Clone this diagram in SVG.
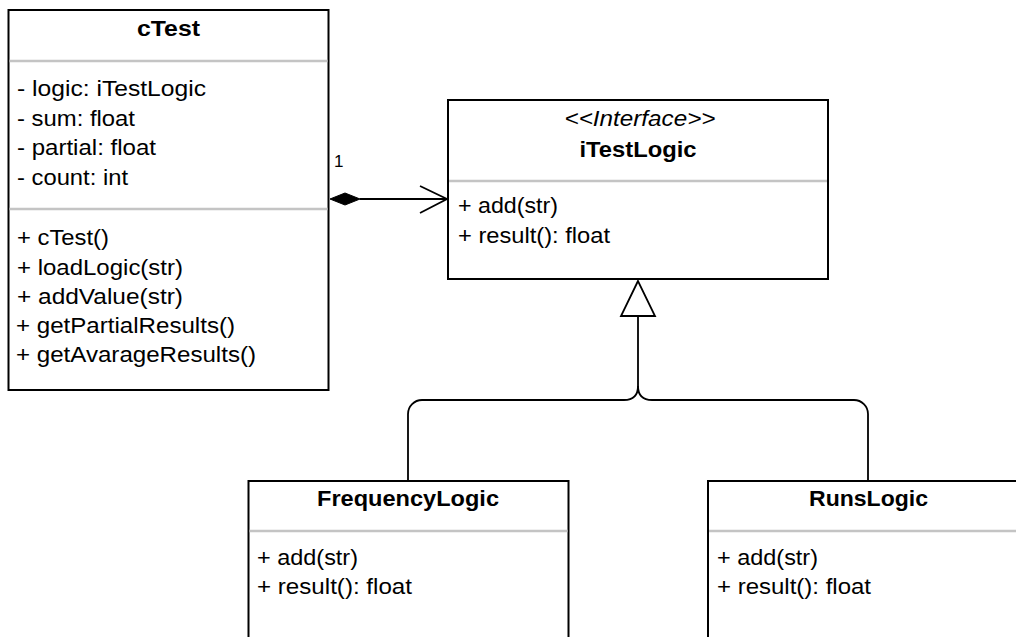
<svg xmlns="http://www.w3.org/2000/svg" width="1016" height="637" viewBox="0 0 1016 637">
<style>
  .box { fill: #ffffff; stroke: #000000; stroke-width: 2; }
  .div { stroke: #c4c4c4; stroke-width: 2.5; }
  .t { font-family: "Liberation Sans", Arial, sans-serif; font-size: 22.5px; fill: #000000; }
  .title { font-weight: bold; text-anchor: middle; }
  .stereo { font-style: italic; text-anchor: middle; }
  .edge { fill: none; stroke: #000000; stroke-width: 1.8; }
  .lbl { font-family: "Liberation Sans", Arial, sans-serif; font-size: 17px; fill: #000000; }
</style>
<rect x="0" y="0" width="1016" height="637" fill="#ffffff"/>

<g id="cTest">
  <rect class="box" x="8.5" y="10" width="320" height="380"/>
  <line class="div" x1="9.5" y1="61" x2="327.5" y2="61"/>
  <line class="div" x1="9.5" y1="209" x2="327.5" y2="209"/>
  <text class="t title" x="168.5" y="36" textLength="63" lengthAdjust="spacingAndGlyphs">cTest</text>
  <text class="t" x="17" y="96" textLength="189" lengthAdjust="spacingAndGlyphs">- logic: iTestLogic</text>
  <text class="t" x="17" y="126" textLength="118" lengthAdjust="spacingAndGlyphs">- sum: float</text>
  <text class="t" x="17" y="155" textLength="139" lengthAdjust="spacingAndGlyphs">- partial: float</text>
  <text class="t" x="17" y="185" textLength="111" lengthAdjust="spacingAndGlyphs">- count: int</text>
  <text class="t" x="17" y="245" textLength="92" lengthAdjust="spacingAndGlyphs">+ cTest()</text>
  <text class="t" x="17" y="275" textLength="166" lengthAdjust="spacingAndGlyphs">+ loadLogic(str)</text>
  <text class="t" x="17" y="304" textLength="166" lengthAdjust="spacingAndGlyphs">+ addValue(str)</text>
  <text class="t" x="16" y="333" textLength="219" lengthAdjust="spacingAndGlyphs">+ getPartialResults()</text>
  <text class="t" x="16" y="362" textLength="240" lengthAdjust="spacingAndGlyphs">+ getAvarageResults()</text>
</g>

<g id="iTestLogic">
  <rect class="box" x="448" y="100" width="380" height="179"/>
  <line class="div" x1="449" y1="181" x2="827" y2="181"/>
  <text class="t stereo" x="640" y="126" textLength="151" lengthAdjust="spacingAndGlyphs">&lt;&lt;Interface&gt;&gt;</text>
  <text class="t title" x="638" y="157" textLength="117" lengthAdjust="spacingAndGlyphs">iTestLogic</text>
  <text class="t" x="458" y="213" textLength="100" lengthAdjust="spacingAndGlyphs">+ add(str)</text>
  <text class="t" x="458" y="243" textLength="152" lengthAdjust="spacingAndGlyphs">+ result(): float</text>
</g>

<g id="FrequencyLogic">
  <rect class="box" x="248.5" y="481" width="320" height="170"/>
  <line class="div" x1="249.5" y1="531" x2="567.5" y2="531"/>
  <text class="t title" x="408" y="506" textLength="182" lengthAdjust="spacingAndGlyphs">FrequencyLogic</text>
  <text class="t" x="257" y="565" textLength="101" lengthAdjust="spacingAndGlyphs">+ add(str)</text>
  <text class="t" x="257" y="594" textLength="155" lengthAdjust="spacingAndGlyphs">+ result(): float</text>
</g>

<g id="RunsLogic">
  <rect class="box" x="708" y="481" width="320" height="170"/>
  <line class="div" x1="709" y1="531" x2="1027" y2="531"/>
  <text class="t title" x="868.5" y="506" textLength="119" lengthAdjust="spacingAndGlyphs">RunsLogic</text>
  <text class="t" x="717" y="565" textLength="101" lengthAdjust="spacingAndGlyphs">+ add(str)</text>
  <text class="t" x="717" y="594" textLength="154" lengthAdjust="spacingAndGlyphs">+ result(): float</text>
</g>

<g id="connectors">
  <!-- composition cTest -> iTestLogic -->
  <line class="edge" x1="360" y1="199" x2="447" y2="199"/>
  <polygon points="330,199 345,193 360,199 345,205" fill="#000000" stroke="#000000" stroke-width="1"/>
  <polyline class="edge" points="420,186 447,199 420,213"/>
  <text class="lbl" x="334" y="167">1</text>

  <!-- generalization -->
  <path class="edge" d="M638,316 L638,386 Q638,400 624,400 L422,400 A14,14 0 0 0 408,414 L408,481"/>
  <path class="edge" d="M638,386 Q638,400 652,400 L854,400 A14,14 0 0 1 868,414 L868,481"/>
  <polygon points="638,281 621,316 655,316" fill="#ffffff" stroke="#000000" stroke-width="1.8"/>
</g>
</svg>
